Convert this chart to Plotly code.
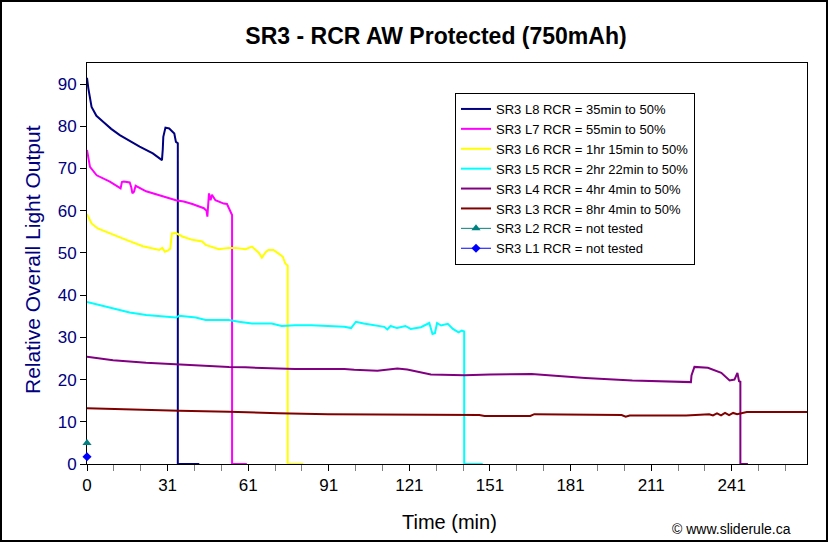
import plotly.graph_objects as go

# ---------------- data ----------------
l8_x = [0, 0.5, 1.7, 3.5, 6, 9, 12.2, 16, 19.6, 24.5, 27.9, 28.2, 28.4, 29.2, 30.6, 32.5, 33.1, 33.8, 33.8, 41.8]
l8_y = [91.5, 89, 84.6, 82.5, 81.1, 79.4, 77.9, 76.5, 75.2, 73.6, 72.0, 74.5, 77.5, 79.7, 79.5, 78.3, 76.3, 76.0, 0, 0]

l7_x = [0, 1.1, 3.6, 8.5, 12.5, 13.0, 13.7, 15.9, 16.5, 16.9, 17.5, 18.1, 22, 26.9, 33.1, 36, 39.2, 43.5,
        44.5, 44.8, 45.2, 45.4, 46, 46.5, 47.8, 50.9, 52.1, 52.8, 53.4, 54.0, 54.0, 59.5]
l7_y = [74.4, 70.4, 68.4, 66.9, 65.3, 66.8, 66.9, 66.7, 65.5, 64.1, 64.5, 65.9, 64.6, 63.7, 62.5, 62.2, 61.6, 60.6,
        60.0, 58.6, 63, 64.1, 62.5, 63.8, 62.5, 61.7, 61.6, 60.6, 60, 59, 0, 0]

l6_x = [0, 1.7, 4, 8.5, 14.6, 20.8, 26.9, 28, 29, 30.2, 31, 31.6, 33.1, 35.5, 39.2, 42.9, 44.2, 49.1, 52.8,
        55.2, 57.7, 59, 61.4, 62.6, 64, 65.1, 66.5, 67.5, 69.4, 71.2, 72.9, 73.8, 74.7, 74.7, 80.5]
l6_y = [59.2, 57.0, 55.8, 54.6, 53.1, 51.6, 50.7, 51.2, 50.3, 50.6, 51, 54.6, 54.7, 53.9, 53.1, 52.7, 51.9, 50.9, 51.2,
        51.2, 51.1, 50.9, 51.5, 50.8, 50.0, 48.9, 50.2, 50.7, 50.7, 49.9, 49.1, 47.5, 47, 0, 0]

l5_x = [0, 4.8, 9.7, 15.9, 22, 28.2, 33.1, 34.3, 40.5, 44.2, 49.1, 52.8, 56.5, 61.4, 68.7, 72.5, 77.4, 83.5,
        89.7, 95.8, 98.3, 100.1, 103, 106.7, 110.6, 111.8, 113, 115.4, 118.5, 120.5, 124.3, 127.4, 128.6,
        129.5, 130.3, 131.8, 134.3, 136.2, 138.3, 139.5, 140.4, 140.4, 147.3]
l5_y = [38.4, 37.7, 36.9, 35.9, 35.3, 34.9, 34.7, 35.1, 34.7, 34.1, 34.0, 34.1, 33.7, 33.3, 33.3, 32.7, 32.9, 32.9,
        32.7, 32.5, 32.2, 33.7, 33.3, 32.9, 32.5, 31.9, 32.7, 32.2, 32.7, 32.0, 32.4, 33.4, 30.8,
        31, 33.4, 32.8, 33.2, 32.0, 31.2, 31.6, 31.4, 0, 0]

l4_x = [0, 9.7, 22, 33.1, 46.6, 52.8, 59, 67.5, 77.4, 95.8, 99.5, 108.1, 115.5, 119.2, 128, 140.5, 150, 165.5,
        185.5, 203, 224.8, 225.0, 226.1, 231.1, 236.1, 239.2, 241.0, 242.1, 242.7, 243.2, 243.2, 246]
l4_y = [25.4, 24.6, 24.0, 23.6, 23.2, 23.0, 22.9, 22.7, 22.5, 22.5, 22.3, 22.1, 22.6, 22.4, 21.2, 21.0, 21.2, 21.3,
        20.4, 19.8, 19.4, 21, 23.0, 22.8, 21.6, 19.8, 20.0, 21.6, 19.6, 19.5, 0, 0]

l3_x = [0, 15.9, 34.3, 52.8, 71.2, 89.7, 118.5, 140.5, 146, 148, 165, 166.5, 190.6, 199, 200.5, 202, 203, 223,
        231.6, 233, 234.5, 236, 237.5, 239, 240.5, 242, 245.6, 268]
l3_y = [13.2, 12.9, 12.6, 12.4, 12.0, 11.8, 11.7, 11.7, 11.6, 11.4, 11.4, 11.8, 11.7, 11.6, 11.2, 11.5, 11.5, 11.5,
        11.8, 11.5, 12.0, 11.5, 12.1, 11.6, 12.1, 11.8, 12.3, 12.3]

l2_x = [0]
l2_y = [5.0]
l1_x = [0]
l1_y = [1.7]

names = [
    "SR3 L8 RCR = 35min to 50%",
    "SR3 L7 RCR = 55min to 50%",
    "SR3 L6 RCR = 1hr 15min to 50%",
    "SR3 L5 RCR = 2hr 22min to 50%",
    "SR3 L4 RCR = 4hr 4min to 50%",
    "SR3 L3 RCR = 8hr 4min to 50%",
    "SR3 L2 RCR = not tested",
    "SR3 L1 RCR = not tested",
]
colors = ["#000080", "#FF00FF", "#FFFF00", "#00FFFF", "#800080", "#800000", "#008080", "#0000FF"]

tick_vals = [0, 30, 60, 90, 120, 150, 180, 210, 240]
tick_text = ["0", "31", "61", "91", "121", "151", "181", "211", "241"]

FONT = "Arial, Liberation Sans, sans-serif"

fig = go.Figure()
series = [(l8_x, l8_y), (l7_x, l7_y), (l6_x, l6_y), (l5_x, l5_y), (l4_x, l4_y), (l3_x, l3_y)]
for (xs, ys), nm, c in zip(series, names[:6], colors[:6]):
    fig.add_trace(go.Scatter(x=xs, y=ys, mode="lines", name=nm,
                             line=dict(color=c, width=2), cliponaxis=False))
fig.add_trace(go.Scatter(x=l2_x, y=l2_y, mode="lines+markers", name=names[6],
                         line=dict(color="#008080", width=1),
                         marker=dict(symbol="triangle-up", size=8, color="#008080"), cliponaxis=False))
fig.add_trace(go.Scatter(x=l1_x, y=l1_y, mode="lines+markers", name=names[7],
                         line=dict(color="#0000FF", width=1),
                         marker=dict(symbol="diamond", size=7, color="#0000FF"), cliponaxis=False))

fig.update_layout(
    width=829, height=543,
    margin=dict(l=87, r=22, t=63, b=79),
    paper_bgcolor="white", plot_bgcolor="white",
    font=dict(family=FONT, color="black"),
    title=dict(text="<b>SR3 - RCR AW Protected (750mAh)</b>", x=436 / 829, xanchor="center",
               y=1 - 36 / 543, yanchor="middle", font=dict(size=23, color="black")),
    showlegend=True,
    legend=dict(x=(455 - 87) / 720, y=(464 - 93) / 401, xanchor="left", yanchor="top",
                bgcolor="white", bordercolor="black", borderwidth=1,
                font=dict(size=13, color="black"), tracegroupgap=0,
                itemwidth=30),
)
fig.update_xaxes(range=[0, 268], tickvals=tick_vals, ticktext=tick_text,
                 ticks="outside", ticklen=6, tickcolor="black",
                 minor=dict(dtick=10, tick0=0, ticks="outside", ticklen=6, tickcolor="gray"),
                 showgrid=False, zeroline=False, layer="below traces",
                 showline=True, linecolor="black", linewidth=1, mirror=True,
                 tickfont=dict(size=17, color="black"))
fig.update_yaxes(range=[0, 95], dtick=10, tick0=0,
                 ticks="outside", ticklen=6, tickcolor="black",
                 showgrid=False, zeroline=False, layer="below traces",
                 showline=True, linecolor="black", linewidth=1, mirror=True,
                 tickfont=dict(size=17, color="#000080"))

fig.add_annotation(text="Time (min)", xref="paper", yref="paper",
                   x=(449 - 87) / 720, y=(464 - 522) / 401, xanchor="center", yanchor="middle",
                   showarrow=False, font=dict(size=20, color="black"))
fig.add_annotation(text="Relative Overall Light Output", xref="paper", yref="paper",
                   x=(32 - 87) / 720, y=(464 - 260) / 401, xanchor="center", yanchor="middle",
                   textangle=-90, showarrow=False, font=dict(size=21, color="#000080"))
fig.add_annotation(text="© www.sliderule.ca", xref="paper", yref="paper",
                   x=(793 - 87) / 720, y=(464 - 529) / 401, xanchor="right", yanchor="middle",
                   showarrow=False, font=dict(size=14, color="black"))
# outer chart border
fig.add_shape(type="rect", xref="paper", yref="paper",
              x0=(1 - 87) / 720, x1=(827 - 87) / 720, y0=(464 - 541) / 401, y1=(464 - 1) / 401,
              line=dict(color="black", width=2), layer="below")

fig.write_html("out.html", config={"displayModeBar": False},
               post_script="document.body.style.margin='0';")
